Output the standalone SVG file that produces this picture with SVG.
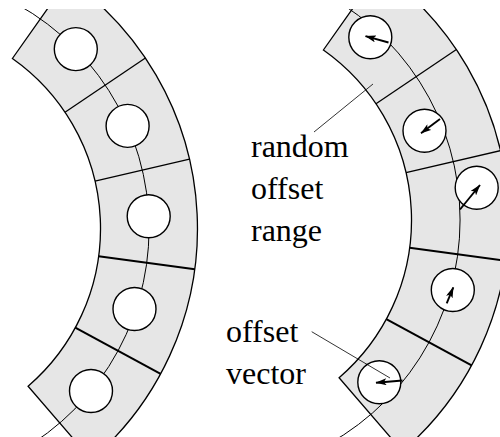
<svg xmlns="http://www.w3.org/2000/svg" width="500" height="437" viewBox="0 0 500 437">
  <style>
    .band { fill: #e6e6e6; stroke: #000; stroke-width: 1.3; stroke-linejoin: miter; }
    .div { fill: none; stroke: #000; stroke-width: 1.3; }
    .div.heavy { stroke-width: 2; }
    .mid { fill: none; stroke: #000; stroke-width: 1; }
    .cell { fill: #fff; stroke: #000; stroke-width: 1.4; }
    .vec { fill: none; stroke: #000; stroke-width: 1.9; marker-end: url(#head); }
    .lead { fill: none; stroke: #000; stroke-width: 0.8; }
    .lbl { font-family: "Liberation Serif", "Times New Roman", serif; font-size: 32px; fill: #000; }
  </style>
  <defs>
    <clipPath id="frame">
      <rect x="0" y="9" width="500" height="428"/>
    </clipPath>
    <marker id="head" viewBox="0 0 11 7" refX="10.5" refY="3.5" markerWidth="11" markerHeight="7" markerUnits="userSpaceOnUse" orient="auto">
      <path d="M0,0 L11,3.5 L0,7 L2.5,3.5 Z" fill="#000"/>
    </marker>
    <!-- curved band split into five cells; centre (-107.5,228.5), radii 208 / 305 -->
    <g id="band">
      <path class="band" d="M12.4,58.5 A208,208 0 0 1 28.1,386.2 L91.4,459.7 A305,305 0 0 0 68.3,-20.7 Z"/>
      <line class="div" x1="65.0" y1="112.2" x2="145.4" y2="58.0"/>
      <line class="div" x1="95.0" y1="181.1" x2="189.5" y2="159.1"/>
      <line class="div heavy" x1="98.6" y1="256.2" x2="194.8" y2="269.2"/>
      <line class="div heavy" x1="75.3" y1="327.7" x2="160.6" y2="373.9"/>
      <!-- centre line, radius 256.5 -->
      <path class="mid" d="M0.9,-4.0 A256.5,256.5 0 0 1 0.9,461.0"/>
    </g>
  </defs>

  <g clip-path="url(#frame)">
    <!-- regular placement -->
    <g id="regular">
      <use href="#band"/>
      <g id="regular-cells">
        <circle class="cell" cx="75.8" cy="49.1" r="21.5"/>
        <circle class="cell" cx="127.6" cy="125.9" r="21.5"/>
        <circle class="cell" cx="148.7" cy="216.2" r="21.5"/>
        <circle class="cell" cx="134.5" cy="309" r="21.5"/>
        <circle class="cell" cx="91" cy="391" r="21.5"/>
      </g>
    </g>

    <!-- jittered placement -->
    <g id="jittered">
      <use href="#band" transform="translate(311,-8.5)"/>
      <g id="jittered-cells">
        <circle class="cell" cx="370.3" cy="37.2" r="21.5"/>
        <circle class="cell" cx="424.5" cy="130.7" r="21.5"/>
        <circle class="cell" cx="476.7" cy="187.7" r="21.5"/>
        <circle class="cell" cx="452.8" cy="290" r="21.5"/>
        <circle class="cell" cx="379.3" cy="382.3" r="21.5"/>
      </g>
      <g id="offset-vectors">
        <line class="vec" x1="388.5" y1="42.5" x2="365.5" y2="36.2"/>
        <line class="vec" x1="440" y1="119" x2="421" y2="133.3"/>
        <line class="vec" x1="460" y1="209.5" x2="480" y2="185"/>
        <line class="vec" x1="446.7" y1="303.3" x2="453.3" y2="287.3"/>
        <line class="vec" x1="402.5" y1="380.5" x2="376" y2="382.7"/>
      </g>
    </g>
  </g>

  <!-- annotations -->
  <g id="label-range">
    <line class="lead" x1="314" y1="132" x2="373" y2="84"/>
    <text class="lbl" x="251" y="157">random</text>
    <text class="lbl" x="251" y="199">offset</text>
    <text class="lbl" x="251" y="241">range</text>
  </g>
  <g id="label-vector">
    <line class="lead" x1="311.7" y1="331.7" x2="390" y2="378"/>
    <text class="lbl" x="226" y="342">offset</text>
    <text class="lbl" x="226" y="384">vector</text>
  </g>
</svg>
